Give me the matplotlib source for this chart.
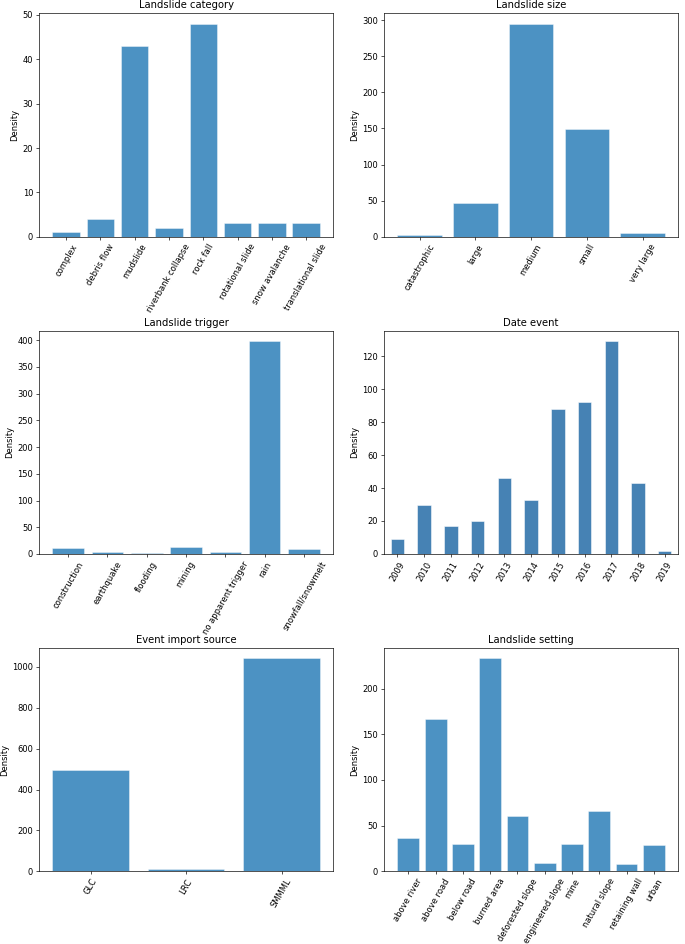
"""Bar charts of landslide catalogue columns"""

import matplotlib.pyplot as plt

category_names = ["complex", "debris flow", "mudslide", "riverbank collapse",
                  "rock fall", "rotational slide", "snow avalanche",
                  "translational slide"]
category_counts = [1, 4, 43, 2, 48, 3, 3, 3]

size_names = ["catastrophic", "large", "medium", "small", "very large"]
size_counts = [2, 46, 295, 149, 5]

trigger_names = ["construction", "earthquake", "flooding", "mining",
                 "no apparent trigger", "rain", "snowfall/snowmelt"]
trigger_counts = [12, 4, 2, 13, 3, 398, 9]

years = ["2009", "2010", "2011", "2012", "2013", "2014", "2015", "2016",
         "2017", "2018", "2019"]
year_counts = [9, 30, 17, 20, 46, 33, 88, 92, 129, 43, 2]

source_names = ["GLC", "LRC", "SMMML"]
source_counts = [495, 13, 1041]

setting_names = ["above river", "above road", "below road", "burned area",
                 "deforested slope", "engineered slope", "mine",
                 "natural slope", "retaining wall", "urban"]
setting_counts = [37, 167, 30, 233, 61, 9, 30, 66, 8, 29]


def category_bars(axes, names, counts, title):
    axes.bar(names, counts, alpha=0.8, edgecolor="white", linewidth=0.6)
    axes.set_title(title)
    axes.set_ylabel("Density")
    axes.tick_params(axis="x", labelrotation=60)


dpi = 60
figure, axes = plt.subplots(3, 2, figsize=(685 / dpi, 944 / dpi), dpi=dpi)
plt.subplots_adjust(left=0.057, right=0.99, top=0.986, bottom=0.077,
                    wspace=0.173, hspace=0.42)

category_bars(axes[0, 0], category_names, category_counts, "Landslide category")
category_bars(axes[0, 1], size_names, size_counts, "Landslide size")
category_bars(axes[1, 0], trigger_names, trigger_counts, "Landslide trigger")

date_axes = axes[1, 1]
date_axes.bar(range(len(years)), year_counts, width=0.5, color="steelblue",
              edgecolor="white", linewidth=0.6)
date_axes.set_xticks(range(len(years)))
date_axes.set_xticklabels(years, rotation=60)
date_axes.set_xlim(-0.5, len(years) - 0.5)
date_axes.set_title("Date event")
date_axes.set_ylabel("Density")

category_bars(axes[2, 0], source_names, source_counts, "Event import source")
category_bars(axes[2, 1], setting_names, setting_counts, "Landslide setting")

plt.savefig("out.png", dpi=dpi)
